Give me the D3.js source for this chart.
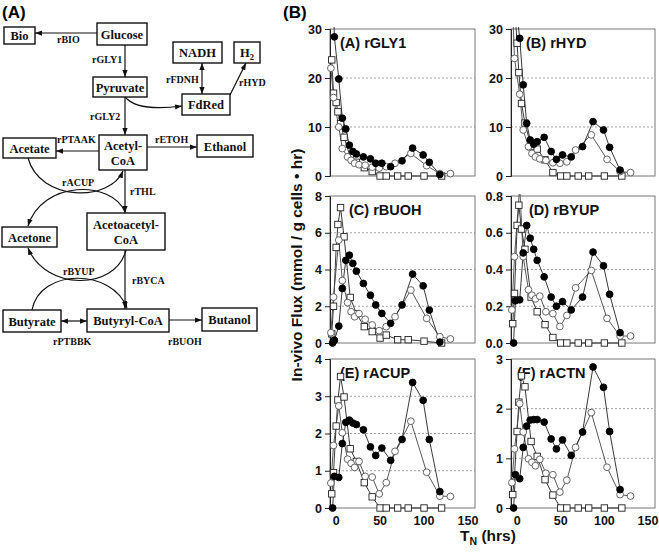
<!DOCTYPE html>
<html><head><meta charset="utf-8">
<script src="https://cdn.jsdelivr.net/npm/d3@7"></script>
<style>body{margin:0;background:#fff}svg{display:block}</style>
</head><body><svg id="c" width="659" height="554"></svg>
<script>
// ---------------- DATA ----------------
const panelTitles = ["(A) rGLY1","(B) rHYD","(C) rBUOH","(D) rBYUP","(E) rACUP","(F) rACTN"];
const yMax = [30,30,8,0.8,4,3];
const yTicks = [[0,10,20,30],[0,10,20,30],[0,2,4,6,8],[0,0.2,0.4,0.6,0.8],[0,1,2,3,4],[0,1,2,3]];
const xTicks = [0,50,100,150];

const tFilled = [-4,-2,3,7,11,15,19,23,31,39,45,52,62,75,87,99,106,118];
const tOpen   = [-6,-3,3,7,13,17,21,26,33,41,49,57,67,85,103,118,130];
const tSquare = [-5,-3,0,2,5,9,16,23,32,41,50,57,70,82,100,120];

const filledVals = [
  [40,28.4,19.8,11.8,9.6,6.3,5.0,4.5,3.9,3.5,2.6,2.6,1.9,3.1,5.7,4.3,2.8,0.3],
  [45,36,28.1,18.6,10.75,7.35,6.5,7.0,7.9,5.0,3.4,4.3,3.9,6.0,11.1,9.4,5.85,1.2],
  [0,0.15,0.92,2.97,4.5,4.78,4.33,3.91,3.24,2.6,2.07,1.61,1.07,2.07,3.75,3.11,1.79,0.05],
  [0,0.23,0.235,0.49,0.64,0.57,0.51,0.45,0.36,0.25,0.20,0.225,0.18,0.25,0.495,0.42,0.265,0.056],
  [0,0.85,0.82,1.73,2.3,2.36,2.28,2.24,2.1,1.64,1.41,1.61,1.28,1.84,3.37,2.89,1.84,0.44],
  [0,0.67,0.59,1.22,1.65,1.77,1.78,1.78,1.73,1.39,1.19,1.37,1.06,1.53,2.84,2.43,1.54,0.37]
];
const openVals = [
  [22,16,10,5.6,3.9,3.2,2.6,2.3,2.2,1.8,1.6,1.9,2.6,4.6,2.1,0.5,0.5],
  [38,24,16.7,9.4,6.0,4.6,3.9,3.5,3.2,2.7,2.6,2.9,5.3,8.4,3.4,0.9,0.7],
  [0.56,2.5,5.6,3.4,2.2,1.7,1.43,1.6,1.29,0.98,0.67,0.89,1.43,2.88,1.34,0.34,0.22],
  [0.18,0.47,0.85,0.47,0.29,0.26,0.24,0.255,0.17,0.16,0.09,0.15,0.30,0.395,0.134,0.038,0.038],
  [0.67,1.68,2.74,2.02,1.31,1.2,1.09,1.25,0.85,0.83,0.38,0.68,1.52,2.33,0.96,0.32,0.31],
  [0.51,1.19,2.1,1.53,0.99,0.92,0.85,0.98,0.70,0.67,0.32,0.56,1.22,1.92,0.82,0.27,0.24]
];
const squareVals = [
  [23.7,16.9,15.0,13.1,10.7,7.9,3.9,2.8,1.7,0.9,0,0,0,0,0,0],
  [40,35,27.1,21.1,14.8,10.8,6.0,5.5,3.3,0.7,0,0,0,0,0,0],
  [0.5,2.0,5.2,6.45,7.37,5.78,2.48,1.6,0.89,0.62,0.27,0.43,0.18,0.18,0.1,0.0],
  [0.105,0.27,0.64,0.75,0.62,0.51,0.25,0.17,0.10,0.03,0,0,0,0,0,0],
  [0.38,0.95,2.2,2.9,3.53,2.98,1.59,1.25,0.68,0.3,0,0,0,0,0,0],
  [0.27,0.65,1.54,2.13,2.66,2.44,1.34,1.04,0.57,0.26,0,0,0,0,0,0]
];

// pathway diagram content
const boxNames = [["Bio"],["Glucose"],["NADH"],["H|2"],["Pyruvate"],["FdRed"],["Acetate"],["Acetyl-","CoA"],["Ethanol"],["Acetone"],["Acetoacetyl-","CoA"],["Butyrate"],["Butyryl-CoA"],["Butanol"]];
const rxnNames = ["rBIO","rGLY1","rFDNH","rHYD","rGLY2","rPTAAK","rETOH","rACUP","rTHL","rBYUP","rBYCA","rPTBBK","rBUOH"];

// ---------------- LAYOUT ----------------
const boxPos = [[4,27,31,17],[97,23,50,22],[173,42,49,21],[234,42,26,21],[93,77,54,20],[182,94,48,21],[3,138,53,20],[99,135,48,35],[197,135,56,22],[2,227,55,20],[87,213,78,37],[3,310,58,22],[87,309,82,23],[202,308,55,23]];
const rxnPos = [[57,43],[92,63],[166,83],[239,86],[90,120],[57,143],[155,143],[62,186],[130,195],[63,275],[132,284],[53,345],[168,345]];
const arrows = [
  ["M97,33 L35,33",false],
  ["M125,45 L125,77",false],
  ["M125,97 L125,135",false],
  ["M125,97 Q138,112 182,106",false],
  ["M202,63 L202,94",true],
  ["M230,95 L246,63",false],
  ["M99,151 L56,151",false],
  ["M147,147 L197,147",false],
  ["M125,170 L125,213",false],
  ["M28,158 C40,202 110,202 123,171",false],
  ["M125,212 C112,180 42,180 28,226",false],
  ["M126,250 C115,292 45,290 28,248",false],
  ["M32,310 C40,268 112,268 127,308",false],
  ["M125,250 L125,309",false],
  ["M61,321 L87,321",true],
  ["M169,320 L202,320",false]
];
const colX = [[330,475],[511,655]];
const rowY = [[29,176],[196,343],[359,508]];
const titleDx = [10,15,19,18,10,6];
const xDomain = [-7,158];

const svg = d3.select("#c");
const sans = "'Liberation Sans', Arial, sans-serif";
const serif = "'Liberation Serif', 'Times New Roman', serif";

// arrow markers
const defs = svg.append("defs");
defs.append("marker").attr("id","ah").attr("viewBox","0 0 8 6").attr("refX",8).attr("refY",3)
  .attr("markerWidth",7).attr("markerHeight",5.5).attr("markerUnits","userSpaceOnUse").attr("orient","auto-start-reverse")
  .append("path").attr("d","M0,0 L8,3 L0,6 Z").attr("fill","#111");

// ---------------- DIAGRAM ----------------
const dg = svg.append("g");
dg.append("text").attr("x",2).attr("y",18).attr("font-family",sans).attr("font-weight","bold").attr("font-size",17).text("(A)");
arrows.forEach(([d,both])=>{
  const p = dg.append("path").attr("d",d).attr("fill","none").attr("stroke","#111").attr("stroke-width",1.2).attr("marker-end","url(#ah)");
  if(both) p.attr("marker-start","url(#ah)");
});
boxNames.forEach((lines,i)=>{
  const [x,y,w,h] = boxPos[i];
  dg.append("rect").attr("x",x).attr("y",y).attr("width",w).attr("height",h).attr("fill","#fff").attr("stroke","#111").attr("stroke-width",1.4);
  const n = lines.length;
  lines.forEach((ln,j)=>{
    const t = dg.append("text").attr("x",x+w/2).attr("y",y+h/2+4.5+(j-(n-1)/2)*15)
      .attr("text-anchor","middle").attr("font-family",serif).attr("font-weight","bold").attr("font-size",12.5).attr("fill","#111");
    if(ln.includes("|")){
      const [a,b]=ln.split("|");
      t.append("tspan").text(a);
      t.append("tspan").attr("font-size",8.5).attr("dy",3).text(b);
    } else t.text(ln);
  });
});
rxnNames.forEach((r,i)=>{
  dg.append("text").attr("x",rxnPos[i][0]).attr("y",rxnPos[i][1]).attr("font-family",serif).attr("font-weight","bold").attr("font-size",10).attr("fill","#111").text(r);
});

// ---------------- CHARTS ----------------
svg.append("text").attr("x",283).attr("y",18).attr("font-family",sans).attr("font-weight","bold").attr("font-size",17).text("(B)");

panelTitles.forEach((title,i)=>{
  const col=i%2,row=Math.floor(i/2);
  const [x0,x1]=colX[col],[y0,y1]=rowY[row];
  const x=d3.scaleLinear().domain(xDomain).range([x0,x1]);
  const y=d3.scaleLinear().domain([0,yMax[i]]).range([y1,y0]);
  const g=svg.append("g");
  g.append("clipPath").attr("id","cp"+i).append("rect").attr("x",x0).attr("y",y0-2).attr("width",x1-x0).attr("height",y1-y0+8);

  // grid
  g.selectAll("line.grid").data(yTicks[i].filter(t=>t>0&&t<yMax[i]-1e-9)).join("line")
    .attr("x1",x0).attr("x2",x1).attr("y1",d=>y(d)).attr("y2",d=>y(d))
    .attr("stroke","#8a8a8a").attr("stroke-width",0.8).attr("stroke-dasharray","2,2");
  // box
  g.append("rect").attr("x",x0).attr("y",y0).attr("width",x1-x0).attr("height",y1-y0)
    .attr("fill","none").attr("stroke","#777").attr("stroke-width",1);
  // y axis
  const ax=d3.axisLeft(y).tickValues(yTicks[i]).tickSize(5).tickPadding(3)
    .tickFormat(i===3?d3.format(".1f"):d3.format("d"));
  const ag=g.append("g").attr("transform",`translate(${x0},0)`).call(ax);
  ag.select(".domain").attr("stroke","#222");
  ag.selectAll(".tick line").attr("stroke","#222");
  ag.selectAll("text").attr("font-family",sans).attr("font-weight","bold").attr("font-size",12.5).attr("fill","#111");
  // title
  g.append("text").attr("x",x0+titleDx[i]).attr("y",y0+19).attr("font-family",sans).attr("font-weight","bold").attr("font-size",14.5).attr("fill","#111").text(title);
  // x labels bottom row
  if(row===2){
    g.selectAll("text.xl").data(xTicks).join("text").attr("x",d=>x(d)).attr("y",y1+17)
      .attr("text-anchor","middle").attr("font-family",sans).attr("font-weight","bold").attr("font-size",12.5).attr("fill","#111").text(d=>d);
  }
  const line=d3.line().x(d=>x(d[0])).y(d=>y(d[1]));
  const series=[
    {t:tSquare,v:squareVals[i],kind:"sq"},
    {t:tOpen,v:openVals[i],kind:"open"},
    {t:tFilled,v:filledVals[i],kind:"fill"}
  ];
  const lg=g.append("g").attr("clip-path",`url(#cp${i})`);
  series.forEach(s=>{
    const pts=s.t.map((t,k)=>[t,s.v[k]]);
    lg.append("path").attr("d",line(pts)).attr("fill","none").attr("stroke",s.kind==="open"?"#444":"#222").attr("stroke-width",0.9);
  });
  series.forEach(s=>{
    const pts=s.t.map((t,k)=>[t,s.v[k]]).filter(p=>p[1]<=yMax[i]);
    if(s.kind==="sq"){
      g.selectAll(null).data(pts).join("rect").attr("x",d=>x(d[0])-3.2).attr("y",d=>y(d[1])-3.2)
        .attr("width",6.4).attr("height",6.4).attr("fill","#fff").attr("stroke","#222").attr("stroke-width",0.9);
    } else {
      g.selectAll(null).data(pts).join("circle").attr("cx",d=>x(d[0])).attr("cy",d=>y(d[1])).attr("r",3.4)
        .attr("fill",s.kind==="fill"?"#000":"#fff").attr("stroke",s.kind==="fill"?"#000":"#555").attr("stroke-width",0.9);
    }
  });
});

// axis titles
svg.append("text").attr("transform","translate(302,265) rotate(-90)").attr("text-anchor","middle")
  .attr("font-family",sans).attr("font-weight","bold").attr("font-size",15.5).attr("fill","#111")
  .text("In-vivo Flux (mmol / g cells • hr)");
const tx=svg.append("text").attr("x",488).attr("y",541).attr("text-anchor","middle")
  .attr("font-family",sans).attr("font-weight","bold").attr("font-size",15.5).attr("fill","#111");
tx.append("tspan").text("T");
tx.append("tspan").attr("font-size",10.5).attr("dy",4).text("N");
tx.append("tspan").attr("dy",-4).text(" (hrs)");
</script></body></html>
